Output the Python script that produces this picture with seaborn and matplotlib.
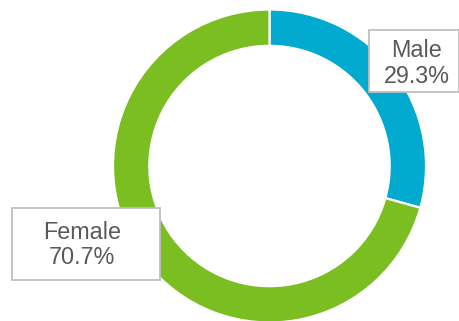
import matplotlib
matplotlib.use("Agg")
import matplotlib.pyplot as plt
from matplotlib.patches import Rectangle
import seaborn as sns

# Gender split shown as a donut
categories = ["Male", "Female"]
shares = [29.3, 70.7]
colors = ["#02AACF", "#7BBE21"]

sns.set_theme(style="white")
plt.rcParams["font.family"] = ["Liberation Sans", "DejaVu Sans"]

W, H = 460, 321
fig = plt.figure(figsize=(W / 100, H / 100), dpi=100)
ax = fig.add_axes([0, 0, 1, 1])

# pixel layout of the ring
cx, cy, r_px = 269.5, 166.0, 156.5


def to_data(px, py):
    return ((px - cx) / r_px, (cy - py) / r_px)


ax.pie(
    shares,
    colors=colors,
    startangle=90,
    counterclock=False,
    radius=1.0,
    wedgeprops=dict(width=0.232, edgecolor="white", linewidth=1.6),
)

x0, _ = to_data(0, 0)
x1, _ = to_data(W, 0)
_, y0 = to_data(0, H)
_, y1 = to_data(0, 0)
ax.set_xlim(x0, x1)
ax.set_ylim(y0, y1)
ax.set_aspect("auto")
ax.axis("off")

# label boxes (pixel rectangles) and text centres
boxes = {"Male": (369, 30, 459, 92), "Female": (11.5, 208, 160, 280)}
text_centres = {"Male": (417, 63.5), "Female": (82, 245)}

for name, val in zip(categories, shares):
    bx0, by0, bx1, by1 = boxes[name]
    lx, ly = to_data(bx0, by1)
    rx, ty = to_data(bx1, by0)
    ax.add_patch(Rectangle((lx, ly), rx - lx, ty - ly, facecolor="white",
                           edgecolor="#BFBFBF", linewidth=1.3, zorder=5,
                           clip_on=False))
    tx, ty2 = to_data(*text_centres[name])
    ax.text(tx, ty2, f"{name}\n{val:.1f}%", ha="center", va="center",
            fontsize=16.8, color="#595959", linespacing=1.15, zorder=6)

fig.savefig("out.png", dpi=100)
